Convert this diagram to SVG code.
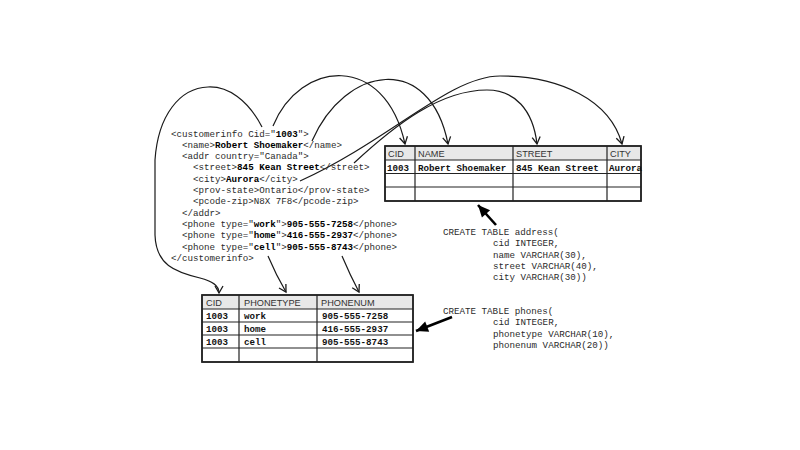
<svg xmlns="http://www.w3.org/2000/svg" width="800" height="450" viewBox="0 0 800 450">
<defs>
<style>
.code{font-family:"Liberation Mono","DejaVu Sans Mono",monospace;font-size:9.2px;fill:#2a2a2a}
.b{font-weight:bold;fill:#000}
.hdr{font-family:"Liberation Sans",Arial,sans-serif;font-size:9.2px;fill:#333}
.cell{font-family:"Liberation Mono","DejaVu Sans Mono",monospace;font-size:9.2px;font-weight:bold;fill:#111}
.tbl{fill:#fff;stroke:#222;stroke-width:1.5}
.head{fill:#e8e8e8}
.grid{stroke:#222;stroke-width:1.2;fill:none}
.curve{fill:none;stroke:#1a1a1a;stroke-width:1.2}
.thick{fill:none;stroke:#000;stroke-width:2.6}
</style>
<marker id="chev" markerUnits="userSpaceOnUse" markerWidth="12" markerHeight="12" refX="0" refY="0" viewBox="-10 -6 12 12" orient="auto">
<path d="M-7,-4 L0,0 L-7,4" fill="none" stroke="#1a1a1a" stroke-width="1.3"/>
</marker>
<marker id="tri" markerUnits="userSpaceOnUse" markerWidth="16" markerHeight="16" refX="0" refY="0" viewBox="-14 -8 16 16" orient="auto">
<path d="M-12,-5.5 L0,0 L-12,5.5 Z" fill="#000"/>
</marker>
</defs>
<rect width="800" height="450" fill="#fff"/>

<g id="xml-doc">
<text class="code" x="171" y="136.5">&lt;customerinfo Cid="<tspan class="b">1003</tspan>"&gt;</text>
<text class="code" x="182" y="147.8">&lt;name&gt;<tspan class="b">Robert Shoemaker</tspan>&lt;/name&gt;</text>
<text class="code" x="182" y="159.1">&lt;addr country="Canada"&gt;</text>
<text class="code" x="193" y="170.4">&lt;street&gt;<tspan class="b">845 Kean Street</tspan>&lt;/street&gt;</text>
<text class="code" x="193" y="181.7">&lt;city&gt;<tspan class="b">Aurora</tspan>&lt;/city&gt;</text>
<text class="code" x="193" y="193">&lt;prov-state&gt;Ontario&lt;/prov-state&gt;</text>
<text class="code" x="193" y="204.3">&lt;pcode-zip&gt;N8X 7F8&lt;/pcode-zip&gt;</text>
<text class="code" x="182" y="215.6">&lt;/addr&gt;</text>
<text class="code" x="182" y="226.9">&lt;phone type="<tspan class="b">work</tspan>"&gt;<tspan class="b">905-555-7258</tspan>&lt;/phone&gt;</text>
<text class="code" x="182" y="238.2">&lt;phone type="<tspan class="b">home</tspan>"&gt;<tspan class="b">416-555-2937</tspan>&lt;/phone&gt;</text>
<text class="code" x="182" y="249.5">&lt;phone type="<tspan class="b">cell</tspan>"&gt;<tspan class="b">905-555-8743</tspan>&lt;/phone&gt;</text>
<text class="code" x="171" y="260.8">&lt;/customerinfo&gt;</text>
</g>

<g id="address-table">
<rect class="tbl" x="385" y="146" width="256" height="55"/>
<rect class="head" x="386" y="147" width="254" height="13"/>
<path class="grid" d="M385,160H641M385,173.5H641M385,187H641M415,146V201M513,146V201M607,146V201"/>
<rect x="385" y="146" width="256" height="55" fill="none" stroke="#222" stroke-width="1.5"/>
<text class="hdr" x="388" y="157">CID</text>
<text class="hdr" x="418" y="157">NAME</text>
<text class="hdr" x="516" y="157">STREET</text>
<text class="hdr" x="610" y="157">CITY</text>
<text class="cell" x="387" y="170.5">1003</text>
<text class="cell" x="418" y="170.5">Robert Shoemaker</text>
<text class="cell" x="516" y="170.5">845 Kean Street</text>
<text class="cell" x="609" y="170.5">Aurora</text>
</g>

<g id="phones-table">
<rect class="tbl" x="202" y="295" width="211" height="67"/>
<rect class="head" x="203" y="296" width="209" height="13"/>
<path class="grid" d="M202,309H413M202,322H413M202,335H413M202,348H413M239,295V362M317,295V362"/>
<rect x="202" y="295" width="211" height="67" fill="none" stroke="#222" stroke-width="1.5"/>
<text class="hdr" x="206" y="306">CID</text>
<text class="hdr" x="244" y="306">PHONETYPE</text>
<text class="hdr" x="321" y="306">PHONENUM</text>
<text class="cell" x="206" y="319">1003</text>
<text class="cell" x="244" y="319">work</text>
<text class="cell" x="322" y="319">905-555-7258</text>
<text class="cell" x="206" y="332">1003</text>
<text class="cell" x="244" y="332">home</text>
<text class="cell" x="322" y="332">416-555-2937</text>
<text class="cell" x="206" y="345">1003</text>
<text class="cell" x="244" y="345">cell</text>
<text class="cell" x="322" y="345">905-555-8743</text>
</g>

<g id="sql-address">
<text class="code" x="443" y="235">CREATE TABLE address(</text>
<text class="code" x="493" y="246.3">cid INTEGER,</text>
<text class="code" x="493" y="257.6">name VARCHAR(30),</text>
<text class="code" x="493" y="268.9">street VARCHAR(40),</text>
<text class="code" x="493" y="280.2">city VARCHAR(30))</text>
</g>

<g id="sql-phones">
<text class="code" x="443" y="314">CREATE TABLE phones(</text>
<text class="code" x="493" y="325.3">cid INTEGER,</text>
<text class="code" x="493" y="336.6">phonetype VARCHAR(10),</text>
<text class="code" x="493" y="347.9">phonenum VARCHAR(20))</text>
</g>

<g id="connectors">
<path class="curve" marker-end="url(#chev)" d="M273,126 C300,60 385,52 405,144"/>
<path class="curve" marker-end="url(#chev)" d="M312,141 C345,65 430,52 448,144"/>
<path class="curve" marker-end="url(#chev)" d="M354,163 C395,125 440,90 487,90 C515,90 533,110 537,144"/>
<path class="curve" marker-end="url(#chev)" d="M300,181 C390,140 450,76 500,76 C560,76 610,100 622,144"/>
<path class="curve" marker-end="url(#chev)" d="M262,127 C248,100 228,86 208,87 C180,88 158,115 155,160 L155,235 C156,265 175,272 200,278 C212,281 219,285 219,293"/>
<path class="curve" marker-end="url(#chev)" d="M268,256 Q276,275 286,292"/>
<path class="curve" marker-end="url(#chev)" d="M342,256 Q350,275 359,292"/>
<path class="thick" marker-end="url(#tri)" d="M496,225 L478,205"/>
<path class="thick" marker-end="url(#tri)" d="M452,317 L416,331"/>
</g>
</svg>
